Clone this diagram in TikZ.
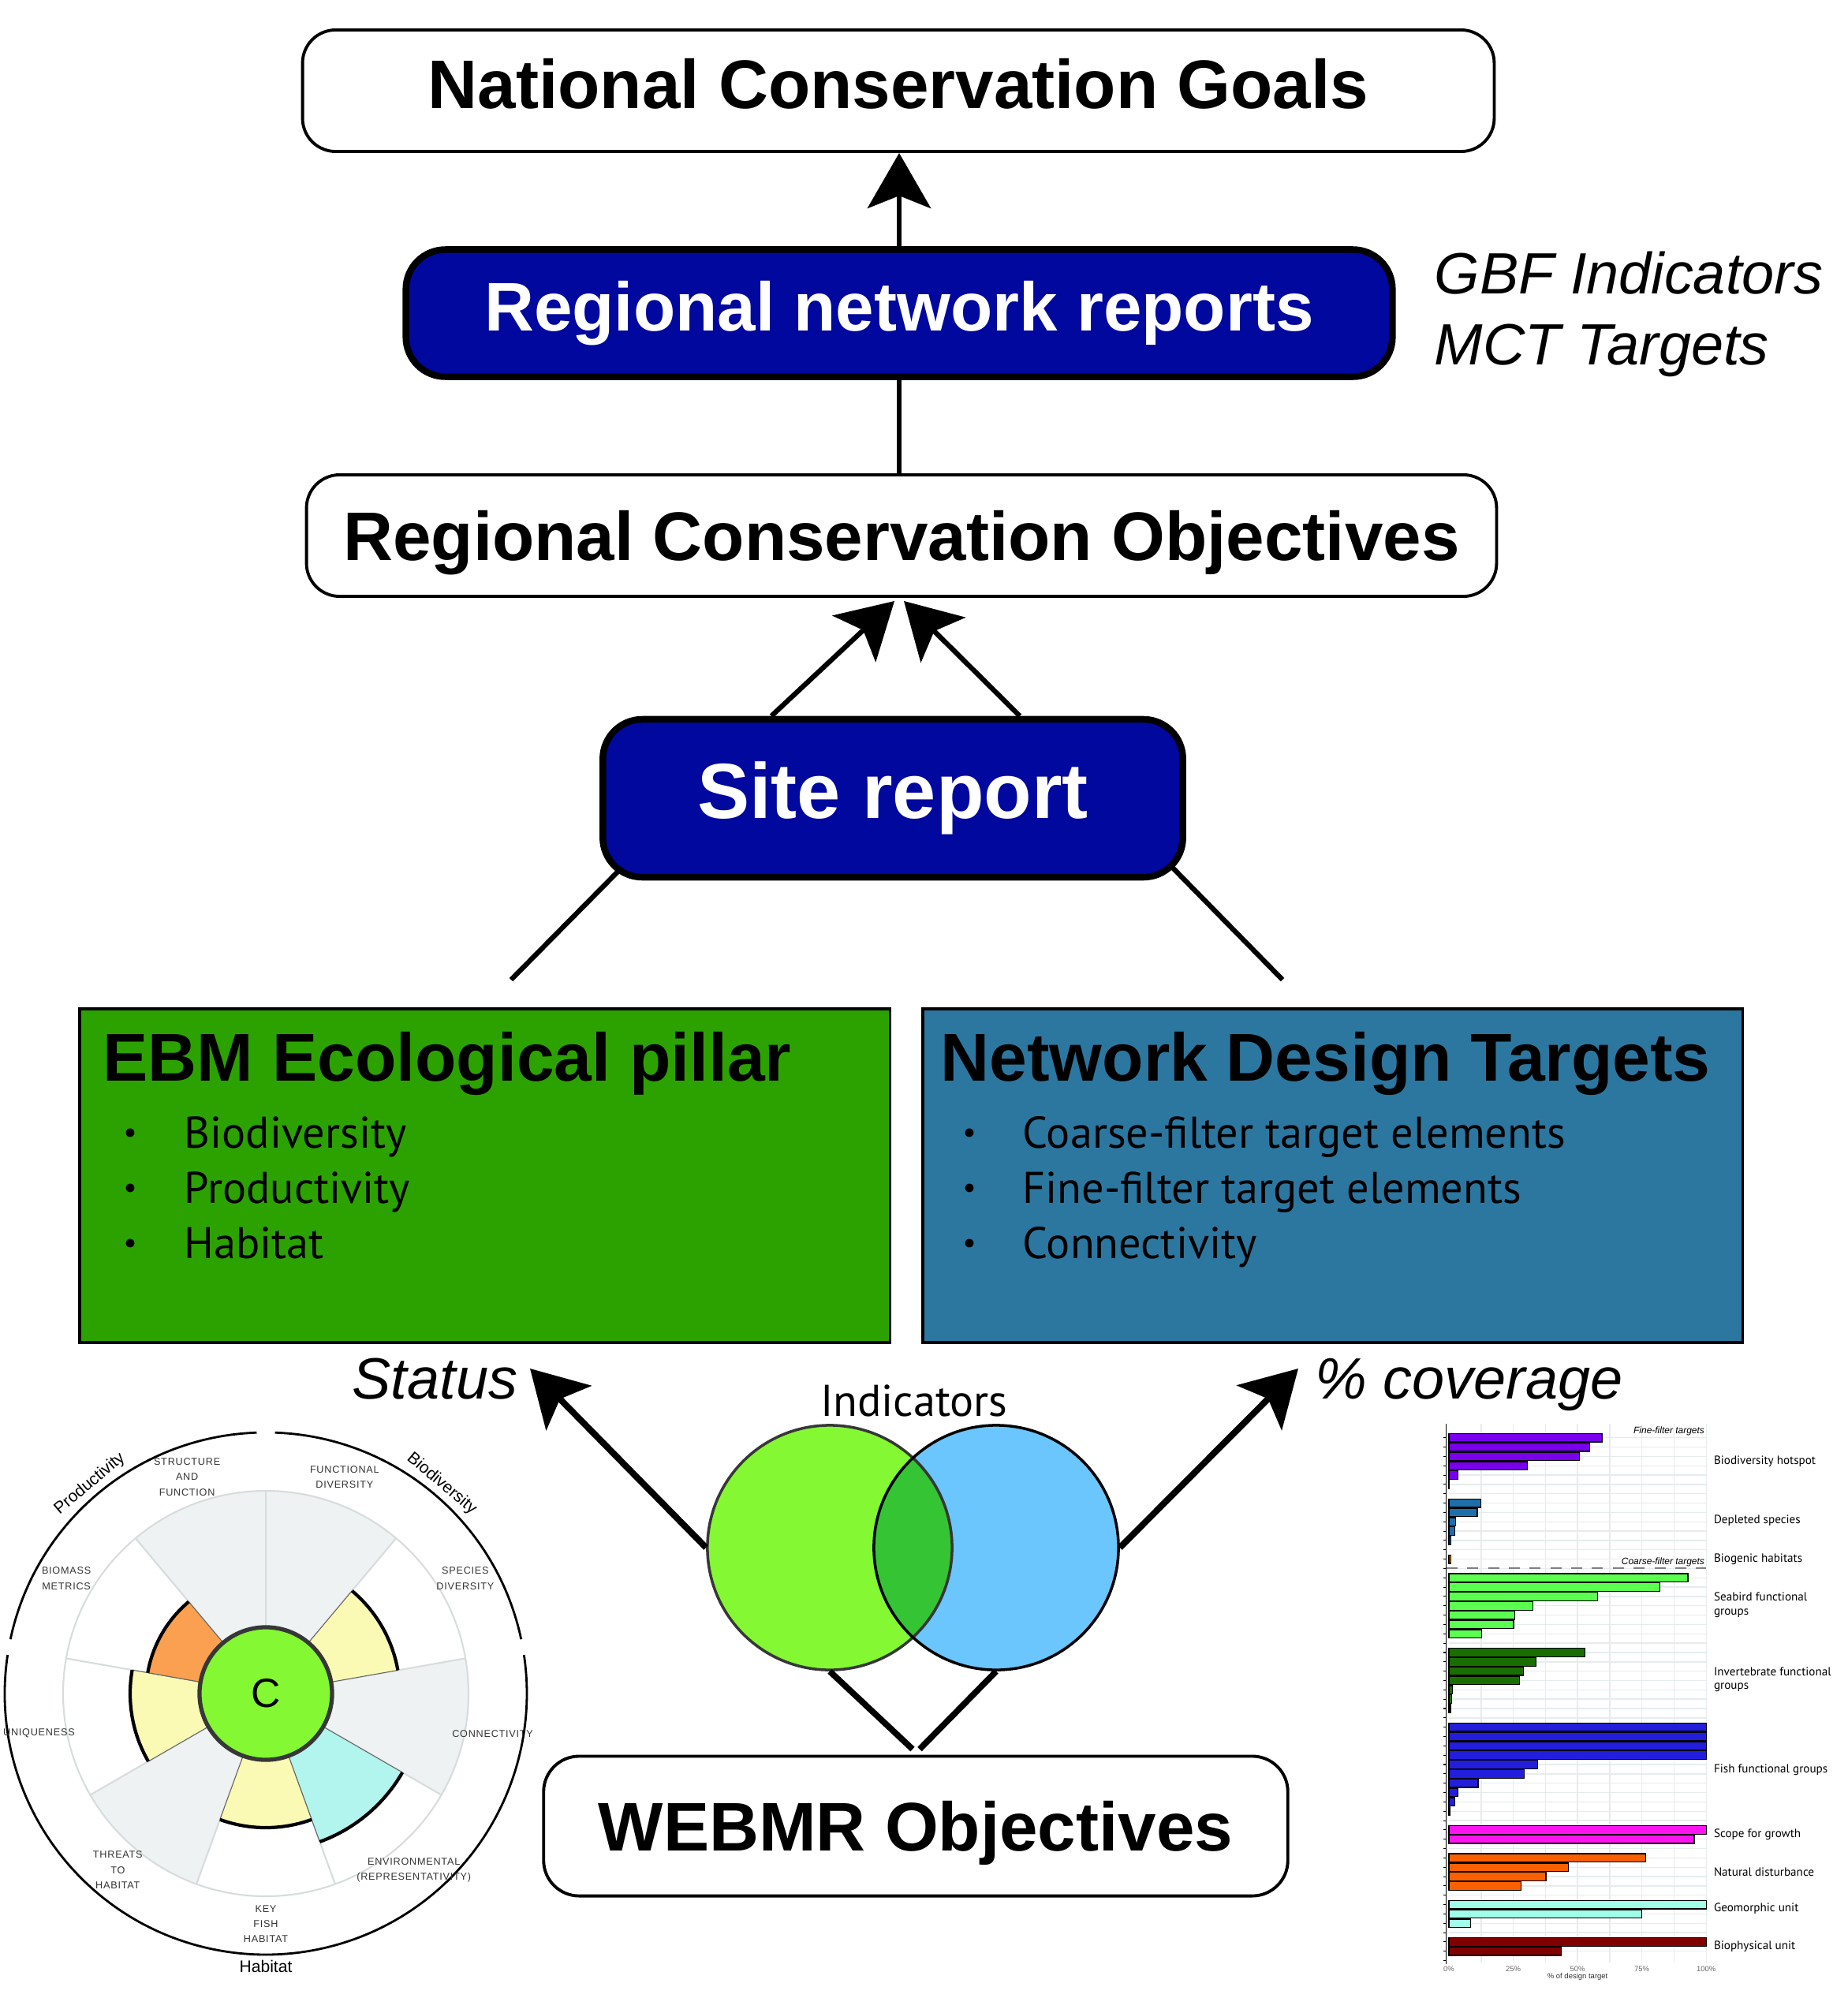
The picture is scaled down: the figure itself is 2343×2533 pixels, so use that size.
\documentclass[tikz,border=0pt]{standalone}
\usepackage{fontspec}
\setmainfont{PT Sans}
\newfontfamily\arialfont{Liberation Sans}
\newfontfamily\capsfont[LetterSpace=6]{Liberation Sans}
\usetikzlibrary{arrows.meta,positioning}
\definecolor{navy}{RGB}{0,8,158}
\definecolor{ebmgreen}{RGB}{44,162,0}
\definecolor{ndtblue}{RGB}{44,119,160}
\definecolor{vgreen}{RGB}{132,248,50}
\definecolor{vblue}{RGB}{106,198,252}
\definecolor{vdark}{RGB}{52,196,52}
\definecolor{vgrey}{RGB}{55,55,55}
\definecolor{pgrey}{RGB}{238,242,242}
\definecolor{pgrid}{RGB}{215,220,220}
\definecolor{pyellow}{RGB}{250,250,180}
\definecolor{porange}{RGB}{250,160,80}
\definecolor{pcyan}{RGB}{178,244,238}
\definecolor{bpurple}{RGB}{120,0,235}
\definecolor{bsteel}{RGB}{30,110,170}
\definecolor{bgold}{RGB}{240,165,30}
\definecolor{blime}{RGB}{90,255,80}
\definecolor{bforest}{RGB}{25,110,0}
\definecolor{bfish}{RGB}{35,30,220}
\definecolor{bpink}{RGB}{255,20,240}
\definecolor{bflame}{RGB}{250,95,0}
\definecolor{baqua}{RGB}{160,255,232}
\definecolor{bmaroon}{RGB}{128,0,0}
\definecolor{bgrid}{RGB}{230,236,236}
\tikzstyle{goal} = [draw,line width=1.1pt,rounded corners=0.42cm,fill=white,inner sep=0,font=\arialfont\bfseries\fontsize{24.8}{30}\selectfont]
\tikzstyle{report} = [goal,line width=2.4pt,rounded corners=0.5cm,fill=navy,text=white]
\tikzstyle{pillar} = [draw,line width=1pt,inner sep=0,anchor=north west]
\tikzstyle{head} = [anchor=base west,inner sep=0,font=\arialfont\bfseries\fontsize{24.4}{28}\selectfont]
\tikzstyle{item} = [anchor=base west,inner sep=0,font=\fontsize{16}{19}\selectfont]
\tikzstyle{dot} = [inner sep=0,font=\fontsize{11}{11}\selectfont]
\tikzstyle{side} = [anchor=base west,inner sep=0,font=\arialfont\itshape\fontsize{21}{25}\selectfont]
\tikzstyle{link} = [line width=1.8pt]
\tikzstyle{arr} = [link,-{Stealth[length=19.9pt,width=22.8pt,inset=4.5pt]}]
\tikzstyle{bigarr} = [line width=2.3pt,-{Stealth[length=19.9pt,width=22.8pt,inset=4.5pt]}]
\tikzstyle{vlink} = [line width=2.2pt]
\tikzstyle{venn} = [circle,draw,line width=1pt,minimum size=3.1cm,inner sep=0]
\tikzstyle{ring} = [line width=0.8pt]
\tikzstyle{ringlab} = [inner sep=0,font=\arialfont\fontsize{6}{7}\selectfont]
\tikzstyle{pollab} = [inner sep=0,align=center,text=black!80,font=\capsfont\fontsize{3.6}{5.5}\selectfont]
\tikzstyle{bar} = [draw=black,line width=0.35pt]
\tikzstyle{grp} = [anchor=west,inner sep=0,align=left,font=\fontsize{4.3}{4.9}\selectfont]
\tikzstyle{grpit} = [anchor=east,inner sep=0,font=\arialfont\itshape\fontsize{3.4}{4}\selectfont]
\tikzstyle{ticklab} = [inner sep=0,text=black!60,font=\arialfont\fontsize{2.7}{3}\selectfont]
\def\rg{257}
\def\rc{331}
\newcommand{\bargroup}[3]{\foreach \v [count=\i from #1] in {#3} \filldraw[bar,fill=#2] (0,\i-0.45) rectangle (\v,\i+0.45);}

\begin{document}
\begin{tikzpicture}[x=0.01cm,y=-0.01cm]
      \useasboundingbox (0,0) rectangle (2343,2533);
      \node[goal,text depth=5.4pt,minimum width=15.10cm,minimum height=1.54cm] (ncg) at (1139,115) {National Conservation Goals};
      \node[report,minimum width=12.50cm,minimum height=1.61cm] (rnr) at (1140,397) {Regional network reports};
      \node[side] (gbf) at (1818,372) {GBF Indicators};
      \node[side] (mct) at (1818,462) {MCT Targets};
      \node[goal,text depth=0pt,minimum width=15.08cm,minimum height=1.54cm] (rco) at (1143,679) {Regional Conservation Objectives};
      \node[report,font=\arialfont\bfseries\fontsize{28.2}{32}\selectfont,minimum width=7.35cm,minimum height=2.0cm] (site) at (1132,1012) {Site report};
      \draw[arr] (rnr.north) -- (rnr.north |- ncg.south);
      \draw[link] (rnr.south) -- (rnr.south |- rco.north);
      \draw[arr] ([shift={(-154,0)}]site.north) -- ([shift={(-9,4)}]rco.south);
      \draw[arr] ([shift={(161,0)}]site.north) -- ([shift={(3,4)}]rco.south);
      \coordinate (pl) at (648,1242);
      \coordinate (pr) at (1626,1242);
      \draw[link] ([shift={(23,-11)}]site.south west) -- (pl);
      \draw[link] ([shift={(-17,-16)}]site.south east) -- (pr);

      \node[pillar,fill=ebmgreen,minimum width=10.27cm,minimum height=4.23cm] (ebm) at (99,1277) {};
      \node[head] (ebmh) at (130,1370) {EBM Ecological pillar};
      \node[dot] (ed1) at (165,1440) {•};
      \node[dot] (ed2) at (165,1510) {•};
      \node[dot] (ed3) at (165,1580) {•};
      \node[item] (ei1) at (233,1455) {Biodiversity};
      \node[item] (ei2) at (233,1525) {Productivity};
      \node[item] (ei3) at (233,1595) {Habitat};
      \node[pillar,fill=ndtblue,minimum width=10.39cm,minimum height=4.23cm] (ndt) at (1168,1277) {};
      \node[head] (ndth) at (1192,1370) {Network Design Targets};
      \node[dot] (nd1) at (1229,1440) {•};
      \node[dot] (nd2) at (1229,1510) {•};
      \node[dot] (nd3) at (1229,1580) {•};
      \node[item] (ni1) at (1296,1455) {Coarse-filter target elements};
      \node[item] (ni2) at (1296,1525) {Fine-filter target elements};
      \node[item] (ni3) at (1296,1595) {Connectivity};

      \fill[vgreen] (1052,1962) circle[radius=155];
      \fill[vblue] (1263,1962) circle[radius=155];
      \begin{scope}
        \clip (1052,1962) circle[radius=155];
        \fill[vdark] (1263,1962) circle[radius=155];
      \end{scope}
      \node[venn,draw=vgrey] (venl) at (1052,1962) {};
      \node[venn] (venr) at (1263,1962) {};
      \node[anchor=base,inner sep=0,font=\fontsize{16}{19}\selectfont] (ind) at (1159,1795) {Indicators};
      \node[side] (status) at (446,1773) {Status};
      \node[side] (cover) at (1667,1773) {\% coverage};
      \coordinate (stip) at (672,1735);
      \coordinate (ctip) at (1646,1735);
      \draw[bigarr] (venl.west) -- (stip);
      \draw[bigarr] (venr.east) -- (ctip);
      \node[goal,text depth=0pt,rounded corners=0.45cm,minimum width=9.43cm,minimum height=1.77cm] (webmr) at (1161,2315) {WEBMR Objectives};
      \draw[vlink] (venl.south) -- ([shift={(-4,-7)}]webmr.north);
      \draw[vlink] (venr.south) -- ([shift={(5,-7)}]webmr.north);

      \begin{scope}[shift={(337,2147)},yscale=-1]
        \foreach \a in {-150,-30,50,90}
          \fill[pgrey] (0,0) -- (\a:\rg) arc[start angle=\a,delta angle=40,radius=\rg] -- cycle;
        \draw[pgrid,line width=0.6pt] (0,0) circle[radius=\rg];
        \foreach \a in {10,50,...,330}
          \draw[pgrid,line width=0.6pt] (\a:84) -- (\a:\rg);
        \foreach \a/\r/\c in {10/170/pyellow,-70/200/pcyan,-110/170/pyellow,170/172/pyellow,130/152/porange} {
          \fill[\c] (0,0) -- (\a:\r) arc[start angle=\a,delta angle=40,radius=\r] -- cycle;
          \draw[black!60,line width=0.3pt] (0,0) -- (\a:\r) (0,0) -- (\a+40:\r);
          \draw[line width=1.2pt] (\a:\r) arc[start angle=\a,delta angle=40,radius=\r];
        }
        \node[circle,fill=vgreen,draw=vgrey,line width=1.5pt,minimum size=1.68cm,inner sep=0,font=\arialfont\fontsize{14.7}{16}\selectfont] (grade) at (0,0) {C};
        \draw[ring] (92:\rc) arc[start angle=92,end angle=168,radius=\rc];
        \draw[ring] (12:\rc) arc[start angle=12,end angle=88,radius=\rc];
        \draw[ring] (171.5:\rc) arc[start angle=171.5,end angle=368.5,radius=\rc];
        \node[ringlab,rotate=40] (prodlab) at (130:347) {Productivity};
        \node[ringlab,rotate=-40] (biolab) at (50:347) {Biodiversity};
        \node[ringlab] (hablab) at (-90:346) {Habitat};
        \foreach \a/\t in {110/{STRUCTURE\\AND\\FUNCTION},70/{FUNCTIONAL\\DIVERSITY},30/{SPECIES\\DIVERSITY},-10/{CONNECTIVITY},-50/{ENVIRONMENTAL\\(REPRESENTATIVITY)},-90/{KEY\\FISH\\HABITAT},-130/{THREATS\\TO\\HABITAT},190/{UNIQUENESS},150/{BIOMASS\\METRICS}}
          \node[pollab] at (\a:292) {\t};
      \end{scope}

      \begin{scope}[shift={(1837,1822.7)},x=3.26cm,y=-0.1183cm]
        \foreach \g in {0.125,0.25,...,1}
          \draw[bgrid,line width=0.4pt] (\g,-1.5) -- (\g,56.2);
        \foreach \i in {0,...,55}
          \draw[bgrid,line width=0.4pt] (0,\i) -- (1,\i);
        \bargroup{0}{bpurple}{.595,.548,.508,.305,.035,.002}
        \bargroup{7}{bsteel}{.125,.11,.025,.022,.007}
        \bargroup{13}{bgold}{.007}
        \bargroup{15}{blime}{.929,.819,.578,.327,.255,.251,.127}
        \bargroup{23}{bforest}{.529,.339,.29,.274,.013,.01,.006}
        \bargroup{31}{bfish}{1,1,1,1,.344,.293,.113,.035,.023,.004}
        \bargroup{42}{bpink}{1,.953}
        \bargroup{45}{bflame}{.764,.465,.377,.281}
        \bargroup{50}{baqua}{1,.75,.084}
        \bargroup{54}{bmaroon}{1,.437}
        \draw[black!50,line width=0.6pt,dash pattern=on 4pt off 3.5pt] (-0.01,14) -- (1,14);
        \draw[line width=0.4pt] (-0.01,-1.5) -- (-0.01,56.4);
        \foreach \i in {0,...,56}
          \draw[line width=0.3pt] (-0.022,\i) -- (-0.01,\i);
        \node[grpit] (fine) at (0.995,-0.71) {Fine-filter targets};
        \node[grpit] (coarse) at (0.995,13.3) {Coarse-filter targets};
        \node[grp] (g1) at (1.028,2.54) {Biodiversity hotspot};
        \node[grp] (g2) at (1.028,8.9) {Depleted species};
        \node[grp] (g3) at (1.028,13.0) {Biogenic habitats};
        \node[grp] (g4) at (1.028,17.9) {Seabird functional\\groups};
        \node[grp] (g5) at (1.028,25.9) {Invertebrate functional\\groups};
        \node[grp] (g6) at (1.028,35.55) {Fish functional groups};
        \node[grp] (g7) at (1.028,42.5) {Scope for growth};
        \node[grp] (g8) at (1.028,46.5) {Natural disturbance};
        \node[grp] (g9) at (1.028,50.4) {Geomorphic unit};
        \node[grp] (g10) at (1.028,54.5) {Biophysical unit};
        \foreach \p/\t in {0/0\%,0.25/25\%,0.5/50\%,0.75/75\%,1/100\%}
          \node[ticklab] at (\p,56.9) {\t};
        \node[ticklab,text=black!80] (xlab) at (0.5,57.7) {\% of design target};
      \end{scope}
\end{tikzpicture}
\end{document}
